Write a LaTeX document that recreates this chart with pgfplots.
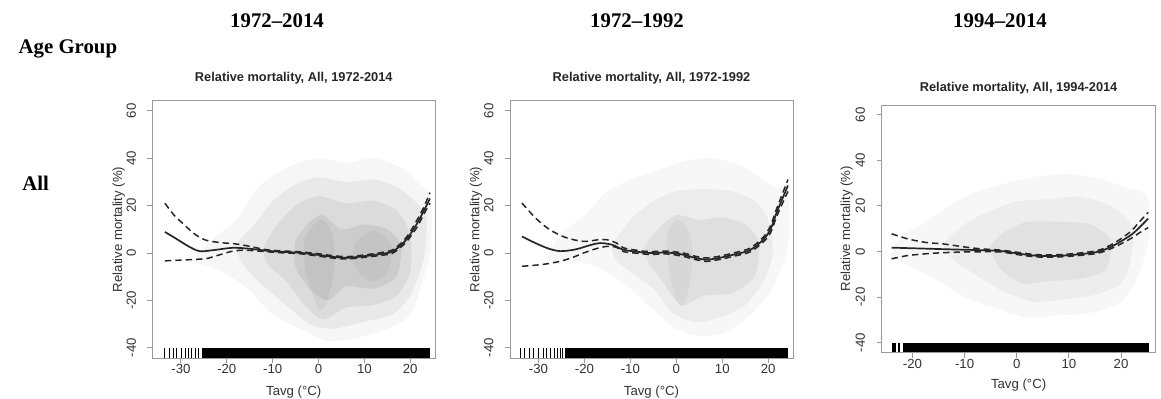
\documentclass[border=0pt]{standalone}
\usepackage{pgfplots}
\pgfplotsset{compat=1.18}
\usepackage{fontspec}
\setmainfont{Liberation Serif}
\newfontfamily\plotfont{Liberation Sans}

\pgfplotsset{
  rpanel/.style={
    scale only axis,
    xmin=-36.2, xmax=25.4, ymin=-44.3, ymax=64.3,
    axis line style={black!40, line width=0.45pt},
    tick style={black!40, line width=0.45pt},
    tick align=outside, tick pos=left,
    major tick length=2.6pt,
    ytick={-40,-20,0,20,40,60},
    xtick={-30,-20,-10,0,10,20},
    /pgf/number format/assume math mode=true,
    tick label style={font=\plotfont\fontsize{6.6}{7}\selectfont, black!80},
    label style={font=\plotfont\fontsize{6.6}{7}\selectfont, black!80},
    yticklabel style={rotate=90, anchor=south, inner sep=0pt},
    xticklabel style={anchor=north, inner sep=0pt},
    yticklabel shift=5.5pt,
    xticklabel shift=0.5pt,
    xlabel={Tavg (°C)},
    ylabel={Relative mortality (\%)},
    xlabel style={at={(0.5,0)}, anchor=center, yshift=-16.9pt},
    title style={font=\plotfont\bfseries\fontsize{6.4}{7}\selectfont, at={(0.5,1)}, anchor=center, black!85},
  },
  cloud/.style={fill=black, draw=none, fill opacity=#1, forget plot, smooth cycle, tension=0.45},
  fit/.style={black!85, line width=0.85pt, smooth},
  band/.style={black!85, line width=0.75pt, dash pattern=on 3.2pt off 2pt, smooth},
  rug/.style={only marks, mark=|, mark size=2.4pt, mark options={line width=0.5pt, black}},
  rugfill/.style={fill=black, draw=none},
}

\begin{document}
\begin{tikzpicture}
\path[use as bounding box] (0,0) rectangle (580.5pt,199.5pt);

% ---------------- 1972-2014 ----------------
\begin{axis}[rpanel, at={(76.25pt,20.5pt)}, anchor=south west,
  width=141.25pt, height=128.65pt,
  title={Relative mortality, All, 1972-2014},
  title style={yshift=5pt},
  ylabel style={at={(-0.12,0.5)}, anchor=center}]
  % point cloud density, from sparse outer region to dense core
  \addplot[cloud=0.035] coordinates {(-27,-3)(-23,6)(-18,14)(-13,28)(-7,36)(0,40)(6,38)(12,40)(18,36)(22,29)(24.5,24)(24.5,2)(23,-10)(20,-26)(15,-32)(8,-36)(2,-37)(-4,-32)(-10,-26)(-16,-14)(-22,-7)};
  \addplot[cloud=0.05] coordinates {(-18,3)(-14,12)(-10,22)(-5,29)(0,32)(6,30)(12,31)(17,28)(21,22)(23.5,15)(23,-2)(20,-18)(16,-26)(10,-29)(3,-32)(-2,-30)(-7,-22)(-12,-14)(-16,-6)};
  \addplot[cloud=0.06] coordinates {(-12,2)(-9,12)(-5,20)(0,24)(6,21)(12,22)(17,18)(20,8)(20,-8)(17,-18)(12,-22)(6,-23)(1,-28)(-3,-22)(-7,-12)(-11,-5)};
  \addplot[cloud=0.07] coordinates {(-5,5)(-2,13)(1,16)(5,10)(10,12)(15,10)(18,3)(17,-10)(12,-15)(6,-14)(2,-20)(-2,-15)(-5,-6)};
  \addplot[cloud=0.045] coordinates {(-3,6)(-1,12)(1,14)(3,8)(3.5,-2)(3,-12)(1.5,-22)(0,-24)(-1.5,-16)(-3,-6)};
  \addplot[cloud=0.04] coordinates {(8,4)(11,9)(14,8)(16,2)(15,-8)(12,-12)(9,-9)(7.5,-2)};
  % fitted curve and confidence band
  \addplot[fit] coordinates {(-33.5,8.9)(-31,6)(-28.5,3)(-26,0.8)(-23,1.2)(-18.7,2.2)(-15,1.8)(-11.4,1.0)(-8,0.5)(-4,0.1)(0,-0.8)(3.5,-1.7)(6.5,-2)(10.5,-1.2)(14,-0.3)(16,0.5)(17.8,3)(19.5,6.5)(21.5,12.5)(23,18)(24.3,23)};
  \addplot[band] coordinates {(-33.5,21)(-31.5,16)(-29.6,12.5)(-27,8)(-24.5,5.4)(-21,4.3)(-18.7,4.0)(-16,3.2)(-13,2)(-11,1.3)(-8,0.9)(-4,0.5)(0,-0.3)(3.5,-1.2)(6.5,-1.5)(10.5,-0.7)(14,0.3)(16,1.2)(17.8,3.8)(19.5,7.5)(21.5,14)(23,19.5)(24.3,25.5)};
  \addplot[band] coordinates {(-33.5,-3.3)(-30,-3)(-26,-2.6)(-24.5,-2.4)(-22,-1)(-18.7,0.8)(-16,1.2)(-13,0.8)(-11,0.5)(-8,0.1)(-4,-0.3)(0,-1.3)(3.5,-2.2)(6.5,-2.5)(10.5,-1.7)(14,-0.9)(16,-0.2)(17.8,2.2)(19.5,5.5)(21.5,11)(23,16.5)(24.3,21)};
  % rug
  \addplot[rug] coordinates {(-33.5,-42.2)(-32.4,-42.2)(-31.7,-42.2)(-30.9,-42.2)(-29.8,-42.2)(-29.1,-42.2)(-28.4,-42.2)(-27.6,-42.2)(-26.9,-42.2)(-26.2,-42.2)};
  \addplot[rugfill] coordinates {(-25.5,-44.3)(24.3,-44.3)(24.3,-40.1)(-25.5,-40.1)} -- cycle;
\end{axis}

% ---------------- 1972-1992 ----------------
\begin{axis}[rpanel, at={(255pt,20.5pt)}, anchor=south west,
  width=141.5pt, height=128.65pt,
  title={Relative mortality, All, 1972-1992},
  title style={yshift=5pt},
  ylabel style={at={(-0.12,0.5)}, anchor=center}]
  \addplot[cloud=0.03] coordinates {(-28,-2)(-25,8)(-20,16)(-15,26)(-10,31)(-4,35)(2,39)(8,40)(14,37)(19,31)(22,27)(24.3,28)(24.3,3)(22,-10)(20,-18)(15,-28)(10,-34)(5,-35)(0,-32)(-5,-24)(-10,-15)(-15,-8)(-20,-4)(-25,-4)};
  \addplot[cloud=0.045] coordinates {(-14,3)(-10,14)(-5,22)(0,26)(6,27)(12,26)(17,22)(20,14)(21,0)(19,-12)(15,-22)(10,-27)(4,-29)(-1,-25)(-5,-15)(-10,-8)(-13,-3)};
  \addplot[cloud=0.055] coordinates {(-7,2)(-4,10)(0,16)(5,14)(10,15)(15,12)(18,4)(17,-10)(12,-17)(6,-18)(1,-22)(-3,-12)(-6,-4)};
  \addplot[cloud=0.035] coordinates {(-2,8)(0,14)(2,12)(3.5,2)(3,-12)(1.5,-22)(0,-20)(-1.5,-8)};
  \addplot[fit] coordinates {(-33.6,7)(-31,4.5)(-28,2)(-25.3,0.8)(-22,1.5)(-18.8,3.3)(-16.6,4.2)(-14,3.5)(-11.5,1.4)(-8,0.4)(-5.7,0)(-2,0.2)(1.5,-0.7)(4,-2)(6.6,-2.8)(9.5,-2)(12.4,-0.7)(16,1.2)(18.9,5.6)(20.5,10)(21.8,16.9)(23,22.5)(24.3,28.5)};
  \addplot[band] coordinates {(-33.6,21.1)(-30.5,14.5)(-27.5,9.8)(-24,6.5)(-20.2,4.9)(-17,5.6)(-15.1,5.6)(-13,4.2)(-11.5,2.2)(-8,1.0)(-5.7,0.6)(-2,0.8)(1.5,0)(4,-1.3)(6.6,-2.1)(9.5,-1.3)(12.4,0)(16,2)(18.9,6.6)(20.5,11.5)(21.8,18.5)(23,24.5)(24.3,31)};
  \addplot[band] coordinates {(-33.6,-5.6)(-29,-4.8)(-25.3,-3.5)(-22.5,-1.8)(-20.2,0)(-17.5,1.8)(-15.1,2.8)(-13,2.4)(-11.5,0.6)(-8,-0.2)(-5.7,-0.6)(-2,-0.4)(1.5,-1.4)(4,-2.7)(6.6,-3.5)(9.5,-2.7)(12.4,-1.4)(16,0.4)(18.9,4.6)(20.5,8.5)(21.8,15.2)(23,20.5)(24.3,26)};
  \addplot[rug] coordinates {(-34,-42.2)(-33,-42.2)(-32,-42.2)(-31,-42.2)(-30,-42.2)(-29,-42.2)(-28.2,-42.2)(-27.4,-42.2)(-26.6,-42.2)(-25.9,-42.2)(-25.3,-42.2)(-24.7,-42.2)};
  \addplot[rugfill] coordinates {(-24.2,-44.3)(24.3,-44.3)(24.3,-40.1)(-24.2,-40.1)} -- cycle;
\end{axis}

% ---------------- 1994-2014 ----------------
\begin{axis}[rpanel, at={(440.85pt,23.25pt)}, anchor=south west,
  width=136.9pt, height=123.75pt,
  xmin=-25.9, xmax=26.6,
  xtick={-20,-10,0,10,20},
  title={Relative mortality, All, 1994-2014},
  title style={yshift=2.6pt},
  xlabel style={yshift=0.65pt},
  ylabel style={at={(-0.128,0.5)}, anchor=center}]
  \addplot[cloud=0.03] coordinates {(-24,-1)(-22,7)(-18,12)(-13,20)(-8,26)(-2,30)(4,33)(10,34)(16,32)(21,28)(25,24)(25.3,5)(23,-12)(20,-22)(14,-27)(8,-28)(2,-29)(-4,-25)(-10,-20)(-15,-13)(-20,-7)(-24,-3)};
  \addplot[cloud=0.04] coordinates {(-14,3)(-10,12)(-5,18)(0,22)(6,23)(12,24)(18,20)(22,12)(22,-2)(20,-14)(15,-19)(9,-21)(3,-22)(-3,-17)(-8,-10)(-12,-4)};
  \addplot[cloud=0.05] coordinates {(-5,2)(-2,9)(2,13)(8,13)(14,12)(18,5)(17,-8)(12,-12)(6,-13)(1,-14)(-3,-8)};
  \addplot[fit] coordinates {(-24,1.7)(-18,1.3)(-12,0.9)(-7,0.6)(-3,0.2)(0,-0.8)(3,-1.7)(5.8,-2)(10,-1.6)(15.4,-0.2)(18.6,2.7)(21.8,7.1)(23.5,10.5)(25.2,14.5)};
  \addplot[band] coordinates {(-24,7.8)(-21,5.6)(-17.5,4)(-14,3.3)(-10,2)(-7,1.2)(-3,0.6)(0,-0.3)(3,-1.2)(5.8,-1.5)(10,-1.1)(15.4,0.4)(18.6,3.6)(21.8,8.7)(23.5,13)(25.2,17.2)};
  \addplot[band] coordinates {(-24,-3.2)(-21,-1.8)(-17.5,-1)(-14,-0.5)(-10,-0.2)(-7,-0.1)(-3,-0.2)(0,-1.3)(3,-2.2)(5.8,-2.5)(10,-2.1)(15.4,-0.8)(18.6,1.8)(21.8,5.6)(23.5,8.2)(25.2,10.5)};
  \addplot[rugfill] coordinates {(-24,-44.3)(-23.2,-44.3)(-23.2,-40.1)(-24,-40.1)} -- cycle;
  \addplot[rugfill] coordinates {(-22.7,-44.3)(-22.3,-44.3)(-22.3,-40.1)(-22.7,-40.1)} -- cycle;
  \addplot[rugfill] coordinates {(-21.8,-44.3)(25.3,-44.3)(25.3,-40.1)(-21.8,-40.1)} -- cycle;
\end{axis}

% column and row headings
\node[font=\bfseries\fontsize{10.4}{12}\selectfont] at (138.5pt,189.25pt) {1972–2014};
\node[font=\bfseries\fontsize{10.4}{12}\selectfont] at (318.5pt,189.25pt) {1972–1992};
\node[font=\bfseries\fontsize{10.4}{12}\selectfont] at (500pt,189.25pt) {1994–2014};
\node[font=\bfseries\fontsize{10.4}{12}\selectfont, anchor=west, inner sep=0pt] at (9.15pt,174.85pt) {Age Group};
\node[font=\bfseries\fontsize{10.4}{12}\selectfont, anchor=west, inner sep=0pt] at (11pt,108pt) {All};
\end{tikzpicture}
\end{document}
